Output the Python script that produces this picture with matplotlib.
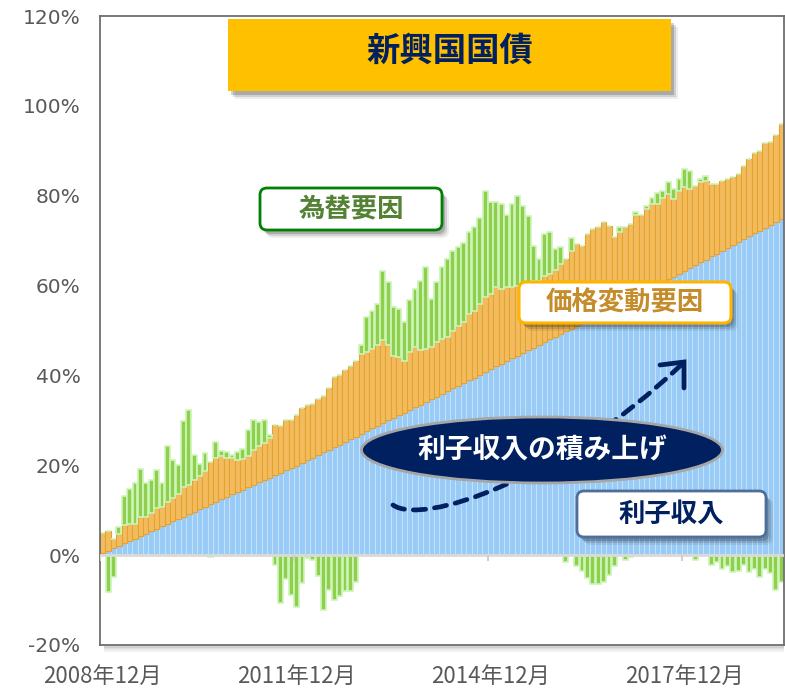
import matplotlib
matplotlib.use("Agg")
import matplotlib.pyplot as plt
import numpy as np
import pandas as pd
from matplotlib.patches import FancyBboxPatch, Ellipse, PathPatch, Rectangle
from matplotlib.path import Path

# monthly cumulative return contributions (%), 2008-12 .. 2019-06
months = pd.period_range("2008-12", periods=127, freq="M")

interest = [
    0.5, 1.0, 1.6, 2.1, 2.7, 3.2, 3.7, 4.3, 4.8, 5.4,
    5.9, 6.4, 7.0, 7.5, 8.1, 8.6, 9.1, 9.7, 10.2, 10.8,
    11.3, 11.8, 12.4, 12.9, 13.5, 14.0, 14.5, 15.1, 15.6, 16.2,
    16.7, 17.2, 17.8, 18.3, 18.9, 19.4, 19.9, 20.5, 21.1, 21.7,
    22.3, 22.9, 23.5, 24.1, 24.6, 25.2, 25.8, 26.4, 27.0, 27.6,
    28.2, 28.8, 29.4, 30.0, 30.5, 31.1, 31.7, 32.3, 32.9, 33.5,
    34.1, 34.7, 35.3, 35.9, 36.5, 37.1, 37.7, 38.3, 38.9, 39.5,
    40.1, 40.7, 41.4, 42.0, 42.6, 43.2, 43.8, 44.4, 45.0, 45.6,
    46.2, 46.8, 47.4, 48.0, 48.6, 49.2, 49.8, 50.4, 51.0, 51.6,
    52.2, 52.8, 53.5, 54.1, 54.7, 55.3, 55.9, 56.5, 57.1, 57.7,
    58.3, 58.9, 59.5, 60.1, 60.7, 61.4, 62.0, 62.6, 63.3, 63.9,
    64.5, 65.2, 65.8, 66.5, 67.1, 67.8, 68.4, 69.0, 69.7, 70.3,
    71.0, 71.6, 72.2, 72.9, 73.5, 74.2, 74.8,
]

price = [
    4.5, 4.3, 2.1, 2.7, 4.1, 3.7, 3.3, 4.2, 3.7, 4.0,
    4.5, 4.3, 4.9, 5.2, 5.5, 6.6, 6.5, 7.0, 7.4, 7.9,
    9.4, 9.9, 9.6, 8.7, 8.2, 7.1, 7.0, 7.0, 7.7, 8.2,
    8.3, 8.8, 11.2, 10.4, 11.1, 10.7, 11.2, 12.3, 12.4, 12.0,
    12.4, 12.5, 13.6, 15.5, 15.6, 15.9, 16.3, 16.8, 17.8, 17.6,
    17.7, 17.9, 18.5, 16.7, 13.9, 13.0, 11.6, 12.9, 13.4, 12.1,
    11.8, 11.6, 12.1, 12.2, 12.0, 12.9, 13.4, 13.6, 14.8, 14.9,
    15.8, 16.7, 16.7, 17.6, 16.7, 16.4, 15.8, 15.6, 15.4, 15.1,
    14.9, 14.3, 14.8, 14.6, 14.9, 15.6, 16.1, 17.4, 18.3, 17.3,
    19.3, 19.8, 19.5, 20.0, 18.6, 15.6, 16.0, 16.5, 16.6, 17.9,
    17.3, 18.1, 18.6, 18.0, 18.9, 19.0, 17.3, 18.5, 18.6, 17.6,
    17.7, 17.8, 17.5, 16.1, 15.5, 15.5, 15.3, 15.2, 15.1, 16.4,
    17.1, 18.0, 17.8, 18.8, 18.4, 19.4, 21.1,
]

fx = [
    0.0, -8.1, -4.8, 1.5, 6.4, 7.9, 9.1, 10.6, 7.6, 7.3,
    8.5, 5.4, 12.3, 8.4, 6.4, 14.7, 16.6, 5.7, 2.6, 4.0,
    -0.5, 3.5, 1.1, 1.4, 0.6, 1.9, 2.2, 5.8, 6.7, 5.2,
    5.0, 0.8, -2.2, -10.7, -5.3, -8.9, -11.5, -6.3, -0.7, -1.1,
    -4.7, -12.2, -7.8, -10.0, -9.0, -8.0, -8.0, -6.0, 1.9, 7.8,
    8.5, 9.2, 15.4, 14.0, 10.8, 10.7, 8.6, 11.5, 13.0, 15.5,
    18.2, 10.7, 13.3, 16.0, 17.4, 17.8, 17.4, 17.5, 18.2, 18.6,
    19.1, 23.7, 20.4, 18.9, 18.8, 16.0, 18.5, 20.0, 17.4, 14.7,
    7.8, 4.8, 9.3, 9.3, 4.6, 3.7, -1.5, 2.8, -2.5, -3.5,
    -5.0, -6.5, -6.5, -6.0, -4.5, -2.5, 1.1, -1.0, -0.5, 0.7,
    -0.3, 0.8, 1.5, 2.6, 1.5, 2.6, 2.2, 2.6, 4.0, 4.1,
    -1.0, 0.7, 1.1, -2.2, -1.5, -3.0, -2.5, -3.7, -3.5, -2.2,
    -3.7, -3.0, -4.8, -3.0, -4.0, -7.8, -6.0,
]

tick_every = 36
title = "新興国国債"
label_fx = "為替要因"
label_price = "価格変動要因"
label_interest = "利子収入"
label_accum = "利子収入の積み上げ"

CJK = ["Noto Sans CJK JP", "DejaVu Sans"]
GREY = "#595959"
NAVY = "#002060"

W, H = 785, 691
fig = plt.figure(figsize=(W / 100, H / 100), dpi=100)
ax = fig.add_axes([100 / W, 1 - 645 / H, 684 / W, 629 / H])

x = np.arange(len(months))
interest = np.array(interest)
price = np.array(price)
fx = np.array(fx)
top = interest + price
fx_pos = np.where(fx > 0, fx, 0)
fx_neg = np.where(fx < 0, fx, 0)

ax.bar(x, interest, width=1.0, color="#99CBF7", edgecolor="#CBE3FA", linewidth=0.6, zorder=2)
ax.bar(x, price, bottom=interest, width=1.0, color="#F2BC5E", edgecolor="#E6A22E", linewidth=0.8, zorder=2)
ax.bar(x, fx_pos, bottom=top, width=0.9, color="#8ED04E", edgecolor="#CDF5B8", linewidth=1.2, zorder=2)
ax.bar(x, fx_neg, width=0.9, color="#8ED04E", edgecolor="#CDF5B8", linewidth=1.2, zorder=2)

ax.axhline(0, color="#D9D9D9", lw=2, zorder=3)
bounds = np.arange(-0.5, len(months), tick_every)
ax.vlines(bounds, -1.3, 0, color="#D0D0D0", lw=1.5, zorder=3)

ax.set_xlim(-0.5, len(months) - 0.5)
ax.set_ylim(-20, 120)
ax.set_yticks(np.arange(-20, 121, 20))
ax.set_yticklabels([f"{v}%" for v in range(-20, 121, 20)])
pos = x[::tick_every]
ax.set_xticks(pos)
ax.set_xticklabels([f"{m.year}年{m.month}月" for m in months[::tick_every]])
for t in ax.get_xticklabels():
    t.set_fontfamily(CJK)
    t.set_fontsize(16)
for t in ax.get_yticklabels():
    t.set_fontsize(14.5)
ax.tick_params(axis="y", length=0, pad=14, colors=GREY)
ax.tick_params(axis="x", length=0, pad=14, colors=GREY)
for s in ax.spines.values():
    s.set_color("#6E6E6E")
    s.set_linewidth(1.3)

# annotation layer in pixel coordinates
ov = fig.add_axes([0, 0, 1, 1], zorder=5)
ov.set_xlim(0, W)
ov.set_ylim(H, 0)
ov.axis("off")
ov.patch.set_alpha(0)

# soft shadow under the plot frame
for i, a in enumerate([0.18, 0.12, 0.07, 0.04]):
    ov.add_patch(Rectangle((104, 646 + i * 1.5), 680, 1.5, color="black", alpha=a, lw=0))


def shadow(x0, y0, w, h, r, layers=((3, 4, 0.18), (5, 6, 0.12), (7, 8, 0.07))):
    for dx, dy, a in layers:
        style = f"round,pad=0,rounding_size={r}" if r else "square,pad=0"
        ov.add_patch(FancyBboxPatch((x0 + dx, y0 + dy), w, h, boxstyle=style,
                                    fc="black", ec="none", alpha=a))


def label_box(x0, y0, w, h, text, ec, tc, size, lw=2):
    shadow(x0, y0, w, h, 7)
    ov.add_patch(FancyBboxPatch((x0, y0), w, h, boxstyle="round,pad=0,rounding_size=7",
                                fc="white", ec=ec, lw=lw))
    ov.text(x0 + w / 2, y0 + h / 2, text, ha="center", va="center", fontsize=size,
            color=tc, fontweight="bold", family=CJK)


# title
shadow(228, 19, 443, 72, 0)
ov.add_patch(Rectangle((228, 19), 443, 72, fc="#FFC000", ec="none"))
ov.text(450, 51, title, ha="center", va="center", fontsize=24, color=NAVY,
        fontweight="bold", family=CJK)

label_box(260, 188, 182, 42, label_fx, "#008000", "#548235", 19)
label_box(519, 282, 212, 41, label_price, "#FFB400", "#C58C2C", 19, lw=2.2)
label_box(577, 491, 189, 46, label_interest, "#4F6E9A", NAVY, 19)

# dashed arrow
p0, p1, p2, p3 = (393, 505), (422, 526), (560, 480), (681, 365)
arrow = Path([p0, p1, p2, p3], [Path.MOVETO, Path.CURVE4, Path.CURVE4, Path.CURVE4])
ov.add_patch(PathPatch(arrow, fill=False, ec=NAVY, lw=3.4, linestyle=(0, (2.6, 1.9)),
                       capstyle="round"))
ov.plot([660, 684, 684], [365, 362, 388], color=NAVY, lw=3.4,
        solid_capstyle="round", solid_joinstyle="miter")

# ellipse label
ov.add_patch(Ellipse((542, 450), 361, 66, fc=NAVY, ec="#A6A6A6", lw=2))
ov.text(542, 450, label_accum, ha="center", va="center", fontsize=20, color="white",
        fontweight="bold", family=CJK)

fig.savefig("out.png", dpi=100)
